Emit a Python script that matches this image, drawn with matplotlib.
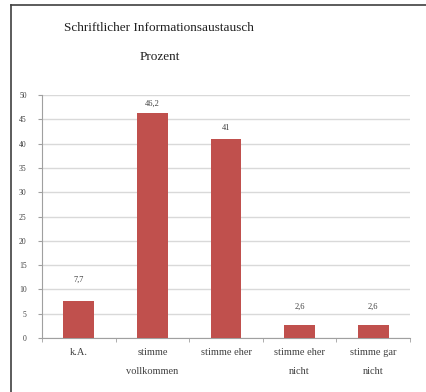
import matplotlib
matplotlib.use("Agg")
import matplotlib.pyplot as plt
from matplotlib.lines import Line2D

categories = ["k.A.", "stimme\nvollkommen", "stimme eher", "stimme eher\nnicht", "stimme gar\nnicht"]
values = [7.7, 46.2, 41, 2.6, 2.6]
value_labels = ["7,7", "46,2", "41", "2,6", "2,6"]
yticks = [0, 5, 10, 15, 20, 25, 30, 35, 40, 45, 50]

# distance (points) of each value label above its bar
label_offsets = [15, 7, 8, 13, 13]

plt.rcParams["font.family"] = ["Liberation Serif", "DejaVu Serif"]

W, H = 426, 392
fig = plt.figure(figsize=(W / 100, H / 100), dpi=100)
fig.patch.set_facecolor("white")

# frame lines (top and left)
fig.add_artist(Line2D([11 / W, 1], [1 - 5 / H, 1 - 5 / H], color="#404040", lw=1.2))
fig.add_artist(Line2D([11 / W, 11 / W], [0, 1 - 5 / H], color="#404040", lw=1.2))

ax = fig.add_axes([42 / W, 1 - 338 / H, (410 - 42) / W, (338 - 95) / H])

x = range(len(categories))
ax.bar(x, values, width=0.42, color="#c0504d", zorder=3)
for xi, v, lab, off in zip(x, values, value_labels, label_offsets):
    ax.annotate(lab, (xi, v), xytext=(0, off), textcoords="offset points",
                ha="center", va="center", fontsize=6, color="#404040")

ax.set_xlim(-0.5, len(categories) - 0.5)
ax.set_ylim(0, 50)
ax.set_yticks(yticks)
ax.set_yticklabels([str(t) for t in yticks], fontsize=5.5, color="#404040")
ax.yaxis.grid(True, color="#d9d9d9", lw=1.0, zorder=0)
ax.set_axisbelow(True)

ax.set_xticks(list(x))
ax.set_xticklabels(categories, fontsize=7.5, color="#404040", linespacing=2.5)
ax.tick_params(axis="x", length=0, pad=7)
ax.set_xticks([i + 0.5 for i in range(-1, len(categories))], minor=True)
ax.tick_params(axis="x", which="minor", length=3, color="#a0a0a0", direction="out")
ax.tick_params(axis="y", length=3, color="#a0a0a0", pad=8)

for s in ["top", "right"]:
    ax.spines[s].set_visible(False)
ax.spines["left"].set_color("#a0a0a0")
ax.spines["bottom"].set_color("#a0a0a0")

fig.text(159 / W, 1 - 28 / H, "Schriftlicher Informationsaustausch", ha="center", va="center",
         fontsize=9.5, color="#202020")
fig.text(160 / W, 1 - 57 / H, "Prozent", ha="center", va="center", fontsize=9.5, color="#202020")

fig.savefig("out.png", dpi=100, facecolor="white")
